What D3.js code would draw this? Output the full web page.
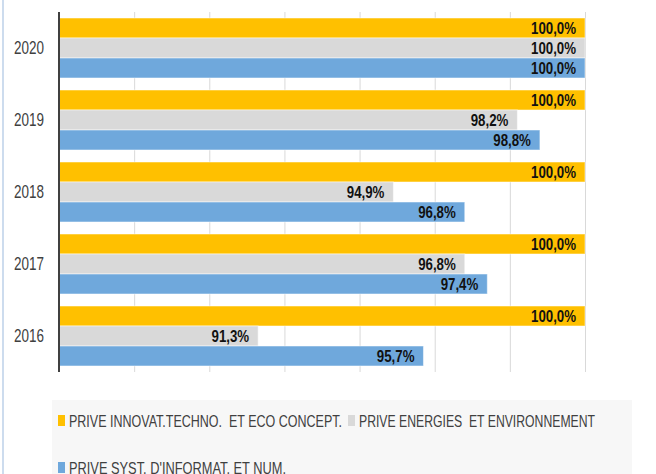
<!DOCTYPE html>
<html>
<head>
<meta charset="utf-8">
<script src="https://cdn.jsdelivr.net/npm/d3@7"></script>
<style>
  body { margin: 0; background: #fff; }
  svg { display: block; }
  text { font-family: "Liberation Sans Narrow", "Liberation Sans", Arial, sans-serif; }
</style>
</head>
<body>
<svg id="chart" width="656" height="474"></svg>
<script>
// data
var years = ["2020", "2019", "2018", "2017", "2016"];
var seriesNames = [
  "PRIVE INNOVAT.TECHNO.  ET ECO CONCEPT.",
  "PRIVE ENERGIES  ET ENVIRONNEMENT",
  "PRIVE SYST. D'INFORMAT. ET NUM."
];
var innovatValues  = [100.0, 100.0, 100.0, 100.0, 100.0];
var energiesValues = [100.0, 98.2, 94.9, 96.8, 91.3];
var systValues     = [100.0, 98.8, 96.8, 97.4, 95.7];
var xTicks = [86, 88, 90, 92, 94, 96, 98, 100];

var colors = ["#ffc000", "#d9d9d9", "#6fa8dc"];
var seriesValues = [innovatValues, energiesValues, systValues];

var svg = d3.select("#chart"),
    plot = {left: 59, right: 585, top: 12, bottom: 372};

var fmt = function(v) { return d3.format(".1f")(v).replace(".", ",") + "%"; };

// squeeze a text to a given width
function squeeze(sel, w) {
  sel.attr("textLength", w).attr("lengthAdjust", "spacingAndGlyphs");
}

// frame line on the left
svg.append("line")
    .attr("x1", 3).attr("x2", 3).attr("y1", 0).attr("y2", 474)
    .attr("stroke", "#cddcee").attr("stroke-width", 2);

var x = d3.scaleLinear().domain([86, 100]).range([plot.left, plot.right]);

var y = d3.scaleBand()
    .domain(years)
    .range([plot.top, plot.bottom])
    .paddingInner(1 / 6)
    .paddingOuter(1 / 12);

var ySub = d3.scaleBand()
    .domain(d3.range(seriesNames.length))
    .range([0, y.bandwidth()]);

// gridlines
svg.append("g")
    .attr("transform", "translate(0," + plot.bottom + ")")
    .call(d3.axisBottom(x).tickValues(xTicks).tickSize(-(plot.bottom - plot.top)).tickFormat(""))
    .call(function(g) { g.select(".domain").remove(); })
    .selectAll("line")
    .attr("stroke", "#d9d9d9");

// bars
var rows = [];
years.forEach(function(yr, i) {
  seriesValues.forEach(function(vals, s) {
    rows.push({year: yr, s: s, value: vals[i]});
  });
});

svg.append("g").selectAll("rect")
  .data(rows)
  .join("rect")
    .attr("x", x(86))
    .attr("y", function(d) { return y(d.year) + ySub(d.s); })
    .attr("width", function(d) { return x(d.value) - x(86); })
    .attr("height", ySub.bandwidth())
    .attr("fill", function(d) { return colors[d.s]; })
    .attr("stroke", "#fff")
    .attr("stroke-opacity", 0.5)
    .attr("stroke-width", 1);

// value labels
var labels = svg.append("g").selectAll("text")
  .data(rows)
  .join("text")
    .attr("x", function(d) { return x(d.value) - 9; })
    .attr("y", function(d) { return y(d.year) + ySub(d.s) + ySub.bandwidth() / 2; })
    .attr("dy", "0.36em")
    .attr("text-anchor", "end")
    .attr("font-size", 16)
    .attr("font-weight", "bold")
    .attr("fill", "#111")
    .text(function(d) { return fmt(d.value); });

var k = 45 / labels.node().getComputedTextLength();
labels.each(function() {
  squeeze(d3.select(this), this.getComputedTextLength() * k);
});

// y axis
var yAxis = svg.append("g")
    .attr("transform", "translate(" + plot.left + ",0)")
    .call(d3.axisLeft(y).tickSize(0).tickPadding(15));
yAxis.select(".domain")
    .attr("d", "M0," + plot.top + "V" + plot.bottom)
    .attr("stroke", "#404040").attr("stroke-width", 2);
var yl = yAxis.selectAll("text")
    .attr("font-size", 18.5)
    .attr("font-family", null)
    .attr("fill", "#404040");
yl.each(function() { squeeze(d3.select(this), 30); });

// legend
svg.append("rect")
    .attr("x", 52).attr("y", 400).attr("width", 580).attr("height", 80)
    .attr("fill", "#f7f7f7");

var legendPos = [[58, 415], [348, 415], [58, 462]];
var legendWidth = [273, 236, 217];
var leg = svg.append("g").selectAll("g")
  .data(seriesNames)
  .join("g")
    .attr("transform", function(d, i) { return "translate(" + legendPos[i][0] + "," + legendPos[i][1] + ")"; });

leg.append("rect")
    .attr("width", 7).attr("height", 11)
    .attr("fill", function(d, i) { return colors[i]; });

leg.append("text")
    .attr("x", 11).attr("y", 11.5)
    .attr("font-size", 16.5)
    .attr("fill", "#404040")
    .style("white-space", "pre")
    .text(function(d) { return d; })
    .each(function(d, i) { squeeze(d3.select(this), legendWidth[i]); });
</script>
</body>
</html>
